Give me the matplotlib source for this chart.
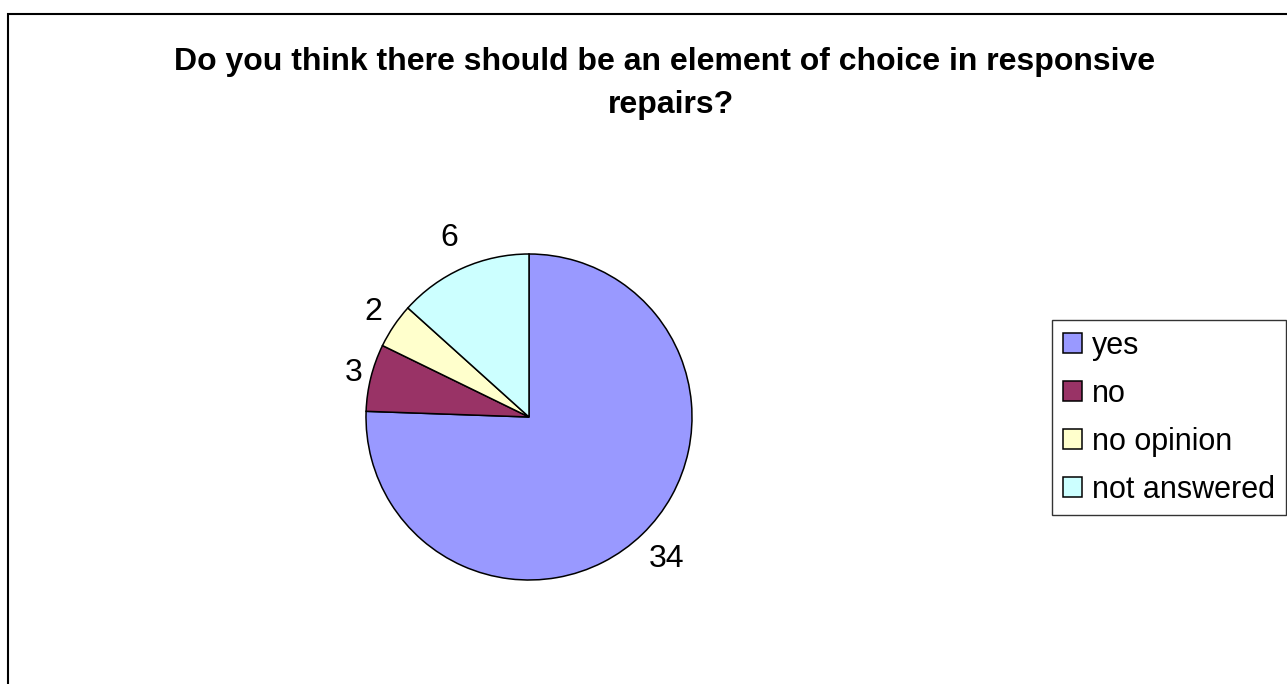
import matplotlib.pyplot as plt
from matplotlib.patches import Rectangle, Patch
import numpy as np

plt.rcParams['font.family'] = ['Liberation Sans', 'DejaVu Sans']

# survey answers
answers = ['yes', 'no', 'no opinion', 'not answered']
counts = [34, 3, 2, 6]
colours = ['#9999FF', '#993366', '#FFFFCC', '#CCFFFF']
title_lines = ['Do you think there should be an element of choice in responsive', 'repairs?']

W, H = 1287, 684
fig = plt.figure(figsize=(W / 100, H / 100), dpi=100)

# chart area frame (runs off the right and bottom edges)
fig.patches.append(Rectangle((8 / W, -0.1), 1.2, 1.1 - 14 / H, transform=fig.transFigure,
                             fill=False, edgecolor='black', linewidth=1.5))

# title, one baseline per line
for (x, y), line in zip([(665, 70), (671, 113)], title_lines):
    fig.text(x / W, 1 - y / H, line, ha='center', va='baseline', fontsize=23,
             fontweight='bold')

# pie centre and radius in pixels
cx, cy, r = 529, 417, 163
ax = fig.add_axes([(cx - r) / W, (H - cy - r) / H, 2 * r / W, 2 * r / H])
wedges, _ = ax.pie(counts, colors=colours, startangle=90, counterclock=False,
                   radius=1, wedgeprops=dict(edgecolor='black', linewidth=1.1))
ax.set_xlim(-1, 1)
ax.set_ylim(-1, 1)
ax.set_aspect('equal')
ax.axis('off')

# value labels just outside each slice
label_dist = [1.215, 1.11, 1.153, 1.20]
for w, n, d in zip(wedges, counts, label_dist):
    mid = np.deg2rad((w.theta1 + w.theta2) / 2)
    ax.text(d * np.cos(mid), d * np.sin(mid), str(n), ha='center', va='center',
            fontsize=23, clip_on=False)

handles = [Patch(facecolor=c, edgecolor='black', linewidth=1.1) for c in colours]
leg = fig.legend(handles, answers, loc='upper left', bbox_to_anchor=(1052 / W, 1 - 320 / H),
                 fontsize=22, frameon=True, fancybox=False, edgecolor='black',
                 handlelength=0.62, handleheight=0.62, handletextpad=0.35,
                 labelspacing=0.59, borderpad=0.35, borderaxespad=0)
leg.get_frame().set_linewidth(1.0)

fig.savefig('out.png', dpi=100)
